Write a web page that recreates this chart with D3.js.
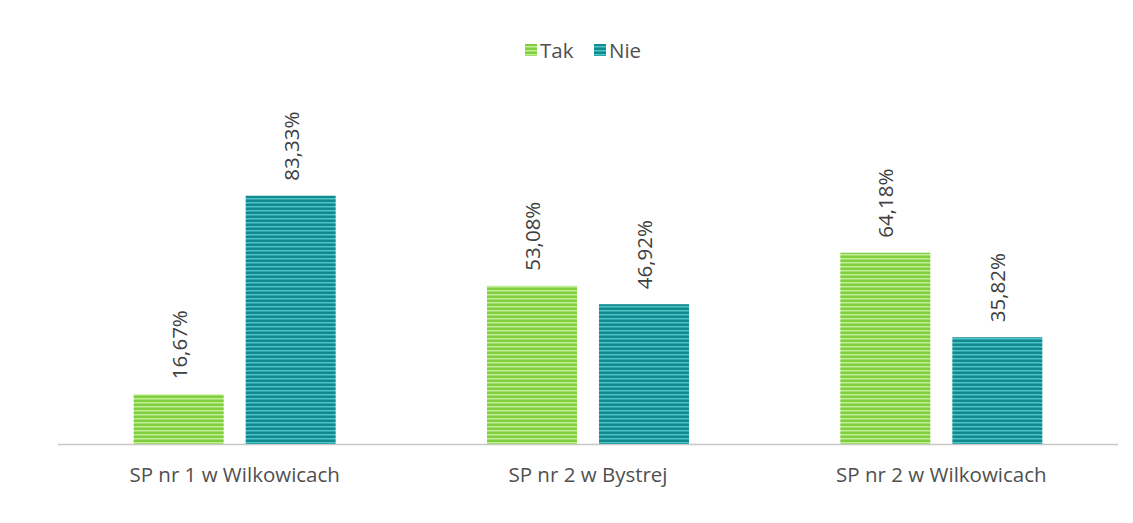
<!DOCTYPE html>
<html><head><meta charset="utf-8">
<script src="https://cdn.jsdelivr.net/npm/d3@7"></script>
<style>body{margin:0;background:#fff}svg{display:block}text{font-family:"Open Sans","Noto Sans",sans-serif}</style>
</head><body><svg id="c" width="1133" height="523"></svg>
<script>
const categories = ["SP nr 1 w Wilkowicach", "SP nr 2 w Bystrej", "SP nr 2 w Wilkowicach"];
const seriesNames = ["Tak", "Nie"];
const takValues = [16.67, 53.08, 64.18];
const nieValues = [83.33, 46.92, 35.82];
const labelsTak = ["16,67%", "53,08%", "64,18%"];
const labelsNie = ["83,33%", "46,92%", "35,82%"];

const svg = d3.select("#c");
const defs = svg.append("defs");
const pats = [
  {id:"pTak", base:"#7dcf3f", light:"#c6ee98"},
  {id:"pNie", base:"#0f8a8f", light:"#52c3c6"}
];
pats.forEach(p=>{
  const pt = defs.append("pattern").attr("id",p.id).attr("patternUnits","userSpaceOnUse").attr("width",8).attr("height",4);
  pt.append("rect").attr("width",8).attr("height",4).attr("fill",p.base);
  pt.append("rect").attr("y",2).attr("width",8).attr("height",1.5).attr("fill",p.light);
});
const fills = ["url(#pTak)","url(#pNie)"];

const x0 = d3.scaleBand().domain(categories).range([58,1118]).paddingInner(0).paddingOuter(0);
const x1 = d3.scaleBand().domain(seriesNames).range([x0.bandwidth()/2-101, x0.bandwidth()/2+101]).paddingInner(22/112).paddingOuter(0);
const y = d3.scaleLinear().domain([0,100]).range([444,146]);

const data = categories.map((c,i)=>({cat:c, vals:[
  {s:"Tak", v:takValues[i], l:labelsTak[i], k:0},
  {s:"Nie", v:nieValues[i], l:labelsNie[i], k:1}]}));

svg.append("line").attr("x1",58).attr("x2",1118).attr("y1",y(0)+0.5).attr("y2",y(0)+0.5).attr("stroke","#c8c8c8").attr("stroke-width",1.5);

const g = svg.selectAll("g.grp").data(data).enter().append("g").attr("transform",d=>`translate(${x0(d.cat)},0)`);
g.selectAll("rect").data(d=>d.vals).enter().append("rect")
  .attr("x",d=>x1(d.s)).attr("width",x1.bandwidth())
  .attr("y",d=>y(d.v)).attr("height",d=>y(0)-y(d.v))
  .attr("fill",d=>fills[d.k]);
g.selectAll("text.val").data(d=>d.vals).enter().append("text").attr("class","val")
  .attr("transform",d=>`translate(${x1(d.s)+x1.bandwidth()/2+8},${y(d.v)-15}) rotate(-90)`)
  .attr("font-size",20.5).attr("fill","#404040").text(d=>d.l);

const xAxis = d3.axisBottom(x0).tickSize(0).tickPadding(0);
const ax = svg.append("g").attr("transform",`translate(0,${y(0)})`).call(xAxis);
ax.select(".domain").remove();
ax.selectAll("text").attr("dy",0).attr("y",38).attr("font-size",20.5).attr("fill","#505050").style("font-family","'Open Sans'");

const leg = svg.append("g");
const legX = [525, 594];
seriesNames.forEach((s,i)=>{
  leg.append("rect").attr("x",legX[i]).attr("y",44).attr("width",12).attr("height",12).attr("fill",fills[i]);
  leg.append("text").attr("x",legX[i]+15).attr("y",58).attr("font-size",20.5).attr("fill","#505050").text(s);
});
</script></body></html>
